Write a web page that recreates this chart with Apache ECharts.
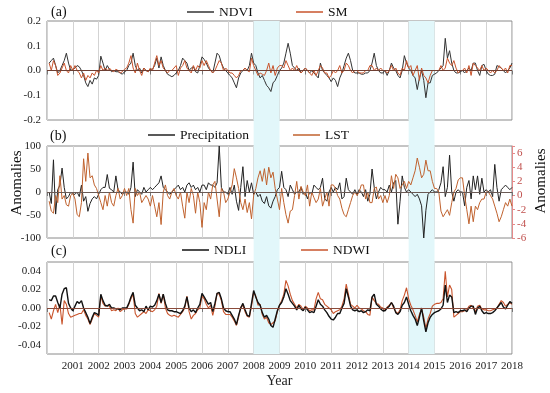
<!DOCTYPE html>
<html><head><meta charset="utf-8">
<script src="https://cdn.jsdelivr.net/npm/echarts@6/dist/echarts.min.js"></script>
<style>html,body{margin:0;padding:0;background:#fff}#c{width:550px;height:393px}</style>
</head><body><div id="c"></div>
<script>
const startYear = 2000, endYear = 2018;
const yearTicks = [2001,2002,2003,2004,2005,2006,2007,2008,2009,2010,2011,2012,2013,2014,2015,2016,2017,2018];
const bands = [[2008, 2009], [2014, 2015]];

const ndvi = [
 0.03,0.04,0.05,0.02,-0.01,0.0,0.02,0.04,0.07,0.03,0.0,0.005,
 0.01,0.02,0.015,0.0,-0.02,-0.05,-0.065,-0.04,-0.055,-0.03,-0.035,-0.02,
 0.058,0.03,0.0,0.02,0.005,-0.005,0.0,-0.005,-0.005,-0.01,-0.015,-0.005,
 0.0,0.02,0.03,0.07,0.02,0.0,0.01,-0.01,0.01,0.0,-0.005,0.005,
 0.005,0.02,0.05,0.01,0.055,0.02,0.0,-0.015,-0.02,-0.025,-0.02,-0.01,
 0.0,0.02,0.05,0.04,0.03,0.0,0.01,0.015,-0.005,-0.01,0.02,0.055,
 0.045,0.03,0.01,0.0,-0.01,0.03,0.07,0.06,0.03,0.01,0.0,-0.01,
 -0.02,-0.03,-0.05,-0.07,-0.03,-0.01,0.0,0.01,0.0,0.02,0.07,0.03,
 0.02,-0.01,-0.03,-0.02,-0.04,-0.06,-0.07,-0.085,-0.05,-0.04,-0.02,0.0,
 0.01,0.03,0.07,0.11,0.07,0.02,0.01,0.0,0.01,-0.01,0.0,0.01,
 0.0,-0.01,0.0,-0.01,-0.02,-0.03,0.03,0.0,-0.01,-0.02,-0.03,-0.045,
 -0.03,-0.04,-0.065,-0.03,-0.01,0.02,0.05,0.07,0.04,0.0,-0.01,-0.01,
 -0.01,-0.015,-0.015,-0.01,-0.01,0.0,0.03,0.07,0.02,0.0,-0.01,-0.01,
 0.0,-0.02,0.0,0.03,0.01,0.0,-0.02,-0.03,0.0,0.06,0.03,0.01,
 0.0,-0.02,-0.03,-0.077,-0.03,0.0,-0.04,-0.11,-0.05,-0.05,-0.02,-0.015,
 -0.01,0.0,0.01,0.02,0.13,0.05,0.08,0.03,0.0,-0.01,-0.01,-0.005,
 0.0,-0.01,0.0,0.01,0.0,0.03,0.03,0.0,-0.02,0.02,0.025,0.0,
 -0.015,-0.02,-0.02,-0.015,0.02,0.015,0.01,0.0,-0.01,0.0,0.01,0.03
];
const sm = [
 0.03,0.0,0.04,0.02,-0.02,-0.01,0.01,0.03,0.0,-0.01,0.02,0.0,
 0.02,0.0,-0.01,-0.03,-0.01,-0.04,-0.02,-0.03,-0.01,-0.02,0.0,-0.01,
 0.02,0.0,0.01,0.0,0.01,0.0,-0.005,0.005,0.0,-0.01,-0.005,0.005,
 0.01,0.03,0.06,0.01,-0.01,0.03,0.0,-0.02,0.01,0.0,-0.005,0.01,
 0.0,0.03,0.06,0.02,0.04,0.01,0.0,-0.01,0.0,0.0,0.01,0.02,
 -0.02,0.01,0.02,0.04,0.01,0.0,-0.01,0.02,0.0,0.02,0.01,0.04,
 0.02,0.04,0.02,0.0,-0.01,0.0,0.02,0.04,0.03,0.0,0.01,0.0,
 -0.01,-0.01,-0.02,-0.03,-0.02,0.0,0.0,0.01,0.0,-0.005,0.05,0.02,
 0.0,-0.02,-0.01,-0.015,-0.02,0.0,0.03,-0.01,0.02,-0.02,0.01,0.02,
 0.02,0.01,0.04,0.02,0.0,0.01,0.0,0.02,0.0,-0.01,0.0,0.01,
 0.0,-0.01,-0.02,0.0,-0.02,0.0,0.02,0.01,-0.01,-0.01,-0.03,-0.02,
 0.0,-0.01,0.0,0.02,-0.01,0.0,0.03,0.02,0.0,-0.01,0.0,0.0,
 -0.01,-0.01,-0.01,0.0,0.0,0.02,0.02,0.0,0.01,0.0,0.01,0.0,
 0.0,-0.01,0.0,0.02,0.0,0.01,-0.01,-0.02,0.01,0.0,0.04,0.01,
 0.02,-0.02,0.0,0.02,-0.04,0.01,-0.02,-0.03,-0.05,-0.02,0.0,0.0,
 0.0,0.0,0.02,0.0,0.01,0.05,0.03,0.02,0.04,0.01,-0.01,0.0,
 0.0,0.01,-0.01,0.02,-0.02,0.03,0.02,0.01,0.0,0.02,0.0,0.01,
 0.0,-0.01,0.0,-0.01,0.0,0.02,0.01,0.0,0.01,-0.01,0.02,0.02
];
const precipitation = [
 0,-25,70,-48,5,15,52,10,-15,-10,0,-5,
 -5,0,-10,15,-20,-10,-42,-25,-15,-10,-15,-5,
 5,10,10,38,8,5,0,35,5,0,-5,0,
 0,-5,10,65,-10,5,0,-5,10,0,5,10,
 5,10,15,20,35,10,5,0,-5,0,5,10,
 15,5,10,0,15,20,10,15,5,10,0,15,
 15,5,20,15,15,10,20,100,10,0,0,-5,
 10,-5,15,-20,-40,10,55,-10,25,0,20,-5,
 0,-10,-5,-20,-25,-10,-30,-35,-20,-10,5,10,
 45,10,5,-10,15,5,-5,0,0,10,-5,0,
 -15,0,-5,15,10,5,10,30,-15,-20,0,10,
 0,10,5,20,-15,-10,30,5,0,-5,5,-5,
 5,0,-10,5,-20,-5,50,10,-15,0,10,5,
 5,0,15,0,20,25,-70,-20,35,10,0,5,
 0,-5,-10,-5,-15,-30,-100,-40,-5,0,5,0,
 0,5,20,55,-10,10,80,0,-20,0,5,0,
 0,-30,10,25,-15,35,5,35,-5,30,0,5,
 0,5,-10,60,10,-20,5,10,15,10,5,10
];
const lst = [
 -0.8,-2.2,-2.5,0,-1,2.8,-0.5,0,-1.3,-1.5,0,0.3,
 -0.5,-2.7,-3,-1,5.2,2,6,2.5,2.8,1.5,1,0,
 -1,-2,0,-1.5,0.5,-1,-1.5,0,1,-0.5,0,1,
 0,1,-2,-3.9,1,0,0.5,-1,-0.5,0,-0.5,-1.5,
 0,-1.5,-3,-1,-4.1,0.5,1.5,0,-0.5,0.5,1,0,
 -0.5,0.5,-1.5,-3.2,0.5,-1,1,0,-2.5,0.5,-1,-4.5,
 -1,-2,0.5,-0.5,1.5,2,-0.5,-3,1,0.5,-1,-0.5,
 0.5,1.5,3.8,2.5,1,-1,-2,-0.5,-2.4,-1,-3.3,0,
 1,2.5,3.5,2,3.8,1.5,4,2.5,3.3,1,-0.5,-2,
 1,-1,-2.7,-3.9,-2.2,-2,0,2,-0.5,1.3,0.5,0,
 1.5,-1.5,0.5,-0.3,-1,-0.5,1,-1.5,-0.5,0.5,-1.5,1.5,
 1.5,1,0,-0.5,-1.8,-2.7,-3,-2,-1,0,0.5,0,
 0.5,1.5,1.5,-0.5,0.5,-1,-1,1,1.2,-0.5,0,-1,
 0,-1,0,2.8,1,3,2.5,1,1.5,2,1,2,
 1.5,2.5,3.5,5.3,4,2.5,3,5,3.5,3.5,2,1,
 1,0.5,-2.2,-3,-2.5,-2,-2.8,-1,0.5,1,2.2,2.5,
 2.5,0,-2,-4,-1.5,-3.7,-1.5,-2,-1,-0.5,-0.5,0.5,
 0.5,0,-0.5,-1.5,-2.5,-3.7,-3,-2,-1,-1.5,-0.5,-1.5
];
const ndli = [
 0.009,0.008,0.013,0.013,0.006,0.0,0.015,0.021,0.022,0.005,0.0,-0.003,
 0.002,0.007,0.005,0.008,0.0,-0.005,-0.01,-0.017,-0.01,-0.005,-0.006,-0.008,
 0.015,0.008,0.003,0.002,0.004,0.0,0.0,-0.001,-0.001,-0.002,0.0,0.0,
 0.0,0.005,0.012,0.017,0.003,0.0,-0.003,-0.002,-0.004,0.002,-0.002,0.002,
 0.001,0.003,0.008,0.015,0.006,0.015,0.005,-0.002,-0.003,-0.003,-0.004,-0.004,
 -0.005,-0.006,-0.003,0.002,0.012,0.0,-0.004,-0.002,-0.005,0.0,0.004,0.016,
 0.012,0.008,0.004,0.006,-0.004,0.005,0.016,0.017,0.01,0.0,-0.003,-0.004,
 -0.004,-0.008,-0.012,-0.018,-0.008,0.0,0.005,-0.002,-0.008,-0.009,0.005,0.019,
 0.012,0.006,0.003,-0.005,-0.01,-0.008,-0.012,-0.019,-0.021,-0.012,-0.003,0.003,
 0.006,0.012,0.021,0.015,0.008,0.005,0.002,-0.002,0.003,-0.001,-0.003,0.001,
 -0.002,-0.005,-0.004,-0.005,0.002,0.009,0.004,0.002,-0.002,-0.005,-0.009,-0.012,
 -0.013,-0.01,-0.006,-0.006,0.0,0.005,0.021,0.012,0.002,-0.002,-0.003,-0.002,
 -0.004,-0.003,-0.005,-0.004,-0.002,-0.003,0.012,0.015,0.004,0.002,-0.001,-0.003,
 -0.003,0.0,0.002,0.006,0.002,-0.005,-0.007,-0.004,0.003,0.006,0.012,0.004,
 -0.003,-0.008,-0.012,-0.019,-0.01,0.0,-0.014,-0.026,-0.016,-0.01,-0.007,-0.005,
 -0.004,-0.003,-0.001,0.003,0.025,0.006,0.014,0.012,-0.005,-0.004,-0.005,-0.003,
 -0.003,-0.002,-0.004,0.0,0.002,0.002,-0.007,0.0,0.002,-0.003,-0.006,-0.005,
 -0.006,-0.006,-0.005,-0.003,0.0,0.003,0.006,0.001,-0.001,0.003,0.007,0.005
];
const ndwi = [
 -0.005,-0.012,-0.003,0.004,-0.005,0.004,-0.018,0.008,0.004,-0.006,-0.01,-0.009,
 -0.008,-0.007,-0.006,-0.006,-0.002,-0.008,-0.012,-0.018,-0.012,-0.006,-0.008,-0.01,
 0.013,0.005,0.002,0.003,0.002,-0.003,-0.002,-0.003,0.0,-0.004,-0.002,-0.001,
 -0.001,0.004,0.01,0.015,-0.006,-0.01,-0.008,-0.006,-0.004,-0.006,-0.002,-0.003,
 -0.004,-0.002,0.002,0.016,0.005,0.015,0.0,-0.006,-0.008,-0.009,-0.008,-0.009,
 -0.01,-0.007,-0.004,0.0,0.013,-0.004,-0.012,-0.008,-0.006,-0.002,0.0,0.013,
 0.01,0.004,0.0,0.003,-0.008,0.002,0.016,0.015,0.008,-0.004,-0.007,-0.007,
 -0.007,-0.01,-0.014,-0.019,-0.01,0.001,0.003,-0.004,-0.009,-0.01,0.002,0.017,
 0.013,0.003,0.004,-0.007,-0.012,-0.01,-0.016,-0.018,-0.016,-0.014,-0.004,0.003,
 0.008,0.015,0.03,0.024,0.015,0.008,0.004,0.0,0.004,0.002,-0.002,0.002,
 0.0,-0.003,-0.002,-0.002,0.01,0.017,0.01,0.009,0.004,0.002,0.0,-0.002,
 -0.006,-0.004,-0.003,-0.002,0.002,0.01,0.026,0.015,0.004,0.002,0.0,0.003,
 0.0,-0.001,-0.003,-0.004,-0.007,-0.008,0.012,0.008,0.005,0.004,0.001,0.0,
 -0.003,0.001,0.003,0.006,0.0,-0.004,-0.006,-0.002,0.008,0.014,0.022,0.01,
 0.003,-0.002,-0.008,-0.015,-0.007,-0.001,-0.01,-0.022,-0.012,-0.006,0.002,0.004,
 0.005,0.005,0.006,0.01,0.04,0.012,0.025,0.02,-0.01,-0.008,-0.006,-0.004,
 -0.004,-0.003,-0.002,0.002,0.003,0.0,-0.004,0.002,0.003,-0.001,-0.002,-0.002,
 -0.003,-0.003,-0.002,-0.001,0.0,0.004,0.008,0.006,0.002,0.004,0.006,0.004
];

const toPairs = arr => arr.map((v, i) => [startYear + (i + 1) / 12, v]);
const FONT = 'Liberation Serif';
const GL = 47, GW = 465;
const grids = [
  {left: GL, width: GW, top: 21, height: 99},
  {left: GL, width: GW, top: 146, height: 92},
  {left: GL, width: GW, top: 262, height: 92}
];

function xAx(gi, labels) {
  return {
    type: 'value', gridIndex: gi, min: startYear, max: endYear, interval: 1,
    axisLine: {show: false},
    axisTick: {show: true, length: 4, lineStyle: {color: '#777'}},
    splitLine: {show: true, lineStyle: {color: '#d3d3d3', width: 1}},
    axisLabel: {show: labels, fontFamily: FONT, fontSize: 11, color: '#222', margin: 7,
      formatter: v => (yearTicks.indexOf(Math.round(v)) >= 0 ? String(Math.round(v)) : '')},
    name: labels ? 'Year' : '', nameLocation: 'middle', nameGap: 20,
    nameTextStyle: {fontFamily: FONT, fontSize: 14, color: '#222'}
  };
}
const yLab = {fontFamily: FONT, fontSize: 11, color: '#222', margin: 6};
const zeroLine = color => ({
  silent: true, symbol: ['none', 'none'], label: {show: false},
  lineStyle: {color: color, type: 'solid', width: 1}, data: [{yAxis: 0}]
});
const legendBase = {padding: 0, icon: 'rect', itemWidth: 27, itemHeight: 1.5, itemGap: 5,
  textStyle: {fontFamily: FONT, fontSize: 13.5, color: '#111'}};

const option = {
  animation: false,
  backgroundColor: '#fff',
  grid: grids.map(g => Object.assign({show: true, borderColor: '#8a8a8a', borderWidth: 1, backgroundColor: 'transparent'}, g))
    .concat([{left: GL, width: GW, top: 21, height: 333, show: false}]),
  xAxis: [xAx(0, false), xAx(1, false), xAx(2, true),
    {type: 'value', gridIndex: 3, min: startYear, max: endYear, show: false}],
  yAxis: [
    {type: 'value', gridIndex: 0, min: -0.2, max: 0.2, interval: 0.1, splitLine: {show: false},
      axisLine: {show: false}, axisTick: {show: false},
      axisLabel: Object.assign({formatter: v => v.toFixed(1)}, yLab)},
    {type: 'value', gridIndex: 1, min: -100, max: 100, interval: 50, splitLine: {show: false},
      axisLine: {show: false}, axisTick: {show: false},
      axisLabel: Object.assign({formatter: v => String(Math.round(v))}, yLab)},
    {type: 'value', gridIndex: 1, position: 'right', min: -6, max: 7, interval: 2, splitLine: {show: false},
      axisLine: {show: true, lineStyle: {color: '#e58a8a'}},
      axisTick: {show: true, length: 3, lineStyle: {color: '#e58a8a'}},
      axisLabel: {fontFamily: FONT, fontSize: 11, color: '#c0504d', margin: 5,
        formatter: v => (v > 6.5 ? '' : String(Math.round(v)))}},
    {type: 'value', gridIndex: 2, min: -0.05, max: 0.05, interval: 0.01, splitLine: {show: false},
      axisLine: {show: false}, axisTick: {show: false},
      axisLabel: Object.assign({formatter: v => {
        const r = Math.round(v * 100);
        return (Math.abs(r) % 2 === 0 && Math.abs(r) < 5) ? (r / 100).toFixed(2) : '';
      }}, yLab)},
    {type: 'value', gridIndex: 3, min: 0, max: 1, show: false}
  ],
  legend: [
    Object.assign({data: ['NDVI'], left: 187, top: 5}, legendBase),
    Object.assign({data: ['SM'], left: 296, top: 5}, legendBase),
    Object.assign({data: ['Precipitation'], left: 148, top: 128}, legendBase),
    Object.assign({data: ['LST'], left: 293, top: 128}, legendBase),
    Object.assign({data: ['NDLI'], left: 182, top: 243}, legendBase),
    Object.assign({data: ['NDWI'], left: 301, top: 243}, legendBase)
  ],
  graphic: [
    {type: 'text', left: 51, top: 5, style: {text: '(a)', font: '14px "Liberation Serif"', fill: '#111'}},
    {type: 'text', left: 50, top: 129, style: {text: '(b)', font: '14px "Liberation Serif"', fill: '#111'}},
    {type: 'text', left: 51, top: 244, style: {text: '(c)', font: '14px "Liberation Serif"', fill: '#111'}},
    {type: 'text', x: 17, y: 183, rotation: Math.PI / 2,
      style: {text: 'Anomalies', font: '15px "Liberation Serif"', fill: '#111', align: 'center', verticalAlign: 'middle'}},
    {type: 'text', x: 541, y: 181, rotation: Math.PI / 2,
      style: {text: 'Anomalies', font: '15px "Liberation Serif"', fill: '#111', align: 'center', verticalAlign: 'middle'}}
  ],
  series: [
    {type: 'line', name: 'band', xAxisIndex: 3, yAxisIndex: 4, data: [], z: -5, silent: true,
      markArea: {silent: true, itemStyle: {color: '#e2f7fa'},
        data: bands.map(b => [{xAxis: b[0]}, {xAxis: b[1]}])}},
    {type: 'line', name: 'NDVI', xAxisIndex: 0, yAxisIndex: 0, data: toPairs(ndvi), symbol: 'none',
      lineStyle: {color: '#333', width: 1}, itemStyle: {color: '#333'}, markLine: zeroLine('#6e3f33')},
    {type: 'line', name: 'SM', xAxisIndex: 0, yAxisIndex: 0, data: toPairs(sm), symbol: 'none',
      lineStyle: {color: '#c9542c', width: 1}, itemStyle: {color: '#c9542c'}},
    {type: 'line', name: 'Precipitation', xAxisIndex: 1, yAxisIndex: 1, data: toPairs(precipitation), symbol: 'none',
      lineStyle: {color: '#222', width: 1}, itemStyle: {color: '#222'}, markLine: zeroLine('#6a5a55')},
    {type: 'line', name: 'LST', xAxisIndex: 1, yAxisIndex: 2, data: toPairs(lst), symbol: 'none',
      lineStyle: {color: '#c0622e', width: 1}, itemStyle: {color: '#c0622e'}},
    {type: 'line', name: 'NDWI', xAxisIndex: 2, yAxisIndex: 3, data: toPairs(ndwi), symbol: 'none',
      lineStyle: {color: '#c9542c', width: 1.1}, itemStyle: {color: '#c9542c'}, markLine: zeroLine('#8a4a3a')},
    {type: 'line', name: 'NDLI', xAxisIndex: 2, yAxisIndex: 3, data: toPairs(ndli), symbol: 'none',
      lineStyle: {color: '#111', width: 1.4}, itemStyle: {color: '#111'}}
  ]
};
const chart = echarts.init(document.getElementById('c'));
chart.setOption(option);
</script></body></html>
